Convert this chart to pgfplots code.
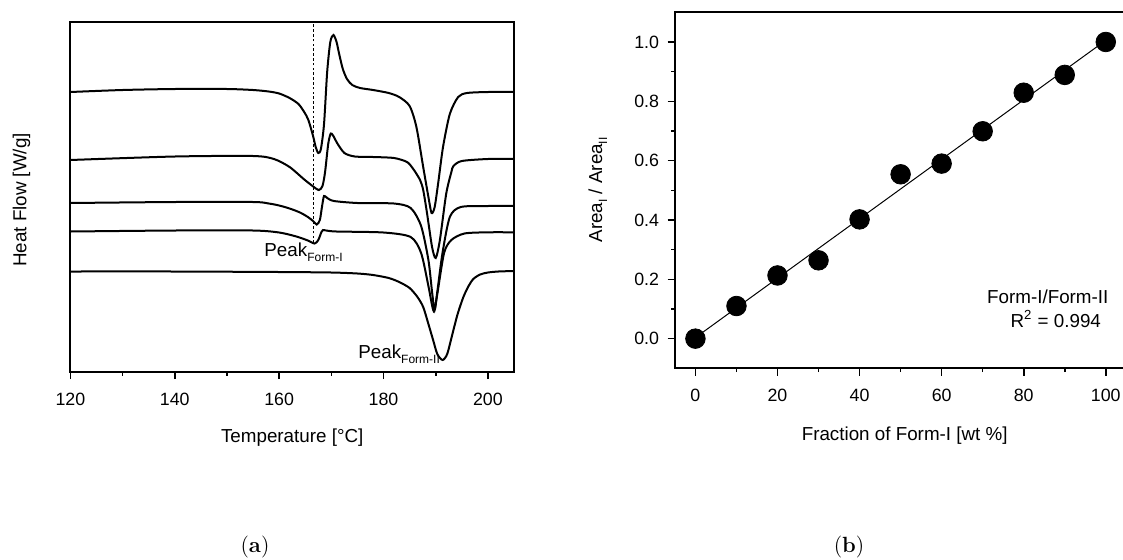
\documentclass[border=0pt]{standalone}
\usepackage{pgfplots}
\pgfplotsset{compat=1.18}
\usepackage{fontspec}
\setsansfont{Liberation Sans}

\newcommand{\axfont}{\sffamily\fontsize{9.4}{11}\selectfont}
\newcommand{\tkfont}{\sffamily\fontsize{8.9}{10}\selectfont}
\newcommand{\sub}[1]{\raisebox{-0.5ex}{\fontsize{6}{7}\selectfont #1}}

\pgfplotsset{
  panel/.style={
    scale only axis, anchor=south west,
    axis line style={line width=0.9pt},
    every tick/.style={black, line width=0.8pt},
    tick align=outside,
    major tick length=3.6pt, minor tick length=1.9pt,
    ticklabel style={font=\tkfont},
    xticklabel style={yshift=-3.2pt},
    label style={font=\axfont},
    /pgf/number format/assume math mode=true,
    clip=false,
  },
  trace/.style={black, line width=1pt, smooth, tension=0.45},
}

% DSC traces: temperature [C] vs. heat flow (vertically offset, arbitrary units)
\pgfplotstableread{
T Y
120 280
130 282
140 283
150 283
155 282
158 280.5
160 278.5
162 274
163.7 268
164.8 260
165.6 252
166.5 236
167.0 225
167.5 219
168.0 223
168.6 248
169.2 300
169.8 330
170.4 337
171.0 330
171.5 318
172.2 303
173 293
174 287
175.5 284
178 282
181 279
183 275
185 266
186.3 245
187.6 205
188.6 175
189.2 159
189.8 165
190.5 190
191.4 225
192.7 258
194.3 275
196 279
200 280
205 280
}\curveA

\pgfplotstableread{
T Y
120 212
140 215.5
155 216
159 213
162 205
164.7 193
166.4 186
167.6 182
168.3 186
168.8 200
169.4 228
169.9 238.5
170.5 235
171.1 229
172.5 219
174.5 215.5
178 215
182 214
184.5 210
185.7 203
187 192
187.6 182
188.3 160
189.3 125
190.0 114
190.8 132
192.0 178
193.0 200
193.4 206
195 211
200 213
205 213
}\curveB

\pgfplotstableread{
T Y
120 169
140 170
155 170
158 168.5
160 166.5
162 163.5
164 159.5
165.5 155
166.5 151
167.2 147.5
167.8 152
168.2 165
168.6 176
169.2 174
170.5 171
175 169
182 168.5
185.2 164
187.2 146
188.6 112
189.3 80
189.8 62
190.3 80
191.3 119
192.7 155
194.8 165
200 166
205 166
}\curveC

\pgfplotstableread{
T Y
120 140.5
140 141.5
155 141.5
160 139.5
163.3 135.5
165.5 131.5
166.8 128.5
167.5 132
168.1 140
168.4 142
169 141.5
171 140.5
180 139.5
185.2 135
187.2 119
188.6 86
189.6 61
190.3 78
191.6 119
193 132
195.5 138.5
200 139.7
205 139.7
}\curveD

\pgfplotstableread{
T Y
120 100.5
140 100.5
160 100
170 99.5
175 98.5
178 97
181 94
183 90
185 84
186.5 75
187.6 65
188.6 48
189.5 32
190.3 18
191.3 12
192.2 18
193.2 38
194.2 58
195.3 75
196.3 86
197.2 93
198.5 97.5
200 99.5
202 100.5
205 101
}\curveE

% Peak-area ratio vs. Form-I content
\pgfplotstableread{
w r
0 0.000
10 0.110
20 0.213
30 0.264
40 0.402
50 0.554
60 0.590
70 0.699
80 0.829
90 0.889
100 1.000
}\ratio

\begin{document}
\begin{tikzpicture}
\useasboundingbox (0,0) rectangle (561.5pt,279.5pt);

% (a) DSC thermograms
\begin{axis}[panel,
  at={(35.2pt,93.5pt)}, width=221.8pt, height=175.15pt,
  xmin=120, xmax=205, ymin=0, ymax=350.3,
  xtick={120,140,...,200}, minor x tick num=1,
  xtick pos=bottom, ytick=\empty,
  xlabel={Temperature [°C]},
  ylabel={Heat Flow [W/g]},
  xlabel style={at={(axis description cs:0.5,-0.186)}, anchor=center},
  ylabel style={at={(axis description cs:-0.11,0.491)}, anchor=center},
]
\addplot[black, dash pattern=on 1.3pt off 1.1pt, line width=0.45pt] coordinates {(166.5,129) (166.5,350.3)};
\addplot[trace] table[x=T,y=Y] {\curveA};
\addplot[trace] table[x=T,y=Y] {\curveB};
\addplot[trace] table[x=T,y=Y] {\curveC};
\addplot[trace] table[x=T,y=Y] {\curveD};
\addplot[trace] table[x=T,y=Y] {\curveE};
\node[font=\axfont, anchor=base west, inner sep=0pt] at (axis cs:157.1,115.3) {Peak\sub{Form-I}};
\node[font=\axfont, anchor=base west, inner sep=0pt] at (axis cs:175.1,13.2) {Peak\sub{Form-II}};
\end{axis}

% (b) calibration line
\begin{axis}[panel,
  at={(337.45pt,95.35pt)}, width=225.7pt, height=178pt,
  xmin=-5, xmax=105, ymin=-0.1, ymax=1.1,
  xtick={0,20,...,100}, minor x tick num=1,
  ytick={0,0.2,...,1.0}, minor y tick num=1,
  xtick pos=bottom, ytick pos=left,
  yticklabel style={xshift=-0.8pt, /pgf/number format/.cd, fixed, fixed zerofill, precision=1},
  xlabel={Fraction of Form-I [wt \%]},
  ylabel={Area\sub{I} / Area\sub{II}},
  xlabel style={at={(axis description cs:0.509,-0.19)}, anchor=center},
  ylabel style={at={(axis description cs:-0.171,0.501)}, anchor=center},
]
\addplot[black, line width=0.5pt] coordinates {(0,0.0035) (100,1.0055)};
\addplot[black, only marks, mark=*, mark size=4.9pt] table[x=w,y=r] {\ratio};
\node[font=\axfont, anchor=west, inner sep=0pt] at (axis cs:71.0,0.140) {Form-I/Form-II};
\node[font=\axfont, anchor=west, inner sep=0pt] at (axis cs:76.7,0.067) {R\textsuperscript{2} = 0.994};
\end{axis}

\node[font=\fontsize{11}{13}\selectfont] at (127.5pt,6.2pt) {(\textbf{a})};
\node[font=\fontsize{11}{13}\selectfont] at (424.5pt,6.2pt) {(\textbf{b})};
\end{tikzpicture}
\end{document}
